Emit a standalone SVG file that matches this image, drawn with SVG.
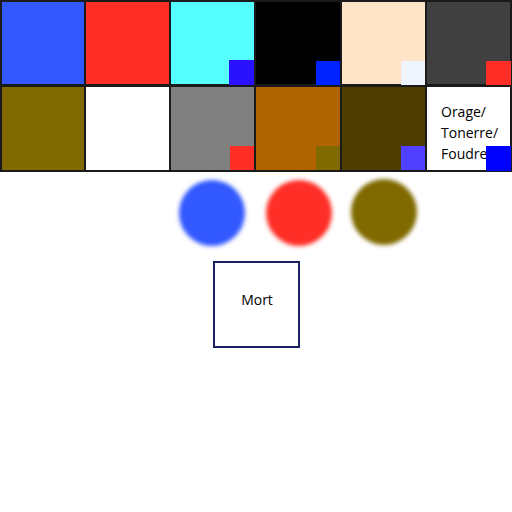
<svg xmlns="http://www.w3.org/2000/svg" width="512" height="512" viewBox="0 0 512 512">
<defs>
<style>
.cell{stroke:#1a1a1a;stroke-width:2}
.sq{stroke:none}
.lbl{font-family:"Open Sans","Liberation Sans",sans-serif;font-size:14px;fill:#000}
</style>
<filter id="blur" x="-30%" y="-30%" width="160%" height="160%"><feGaussianBlur stdDeviation="2"/></filter>
</defs>
<rect width="512" height="512" fill="#fff"/>
<g id="cell-1"><rect class="cell" x="1" y="1" width="84" height="84" fill="#3358ff"/></g>
<g id="cell-2"><rect class="cell" x="85" y="1" width="85" height="84" fill="#ff2e26"/></g>
<g id="cell-3"><rect class="cell" x="170" y="1" width="85" height="84" fill="#55ffff"/><rect class="sq" x="229" y="60" width="25" height="25" fill="#2a12ff"/></g>
<g id="cell-4"><rect class="cell" x="255" y="1" width="86" height="84" fill="#000"/><rect class="sq" x="316" y="61" width="24" height="24" fill="#0022ff"/></g>
<g id="cell-5"><rect class="cell" x="341" y="1" width="85" height="84" fill="#ffe4c8"/><rect class="sq" x="401" y="61" width="25" height="24" fill="#f0f4ff"/></g>
<g id="cell-6"><rect class="cell" x="426" y="1" width="85" height="84" fill="#404040"/><rect class="sq" x="486" y="61" width="25" height="24" fill="#ff2e26"/></g>
<g id="cell-7"><rect class="cell" x="1" y="86" width="84" height="85" fill="#806a00"/></g>
<g id="cell-8"><rect class="cell" x="85" y="86" width="85" height="85" fill="#fff"/></g>
<g id="cell-9"><rect class="cell" x="170" y="86" width="85" height="85" fill="#808080"/><rect class="sq" x="230" y="146" width="24" height="24" fill="#ff2e26"/></g>
<g id="cell-10"><rect class="cell" x="255" y="86" width="86" height="85" fill="#b06400"/><rect class="sq" x="316" y="146" width="24" height="24" fill="#806a00"/></g>
<g id="cell-11"><rect class="cell" x="341" y="86" width="85" height="85" fill="#4d3d00"/><rect class="sq" x="401" y="146" width="24" height="24" fill="#5040ff"/></g>
<g id="cell-12"><rect class="cell" x="426" y="86" width="85" height="85" fill="#fff"/>
<text class="lbl" x="441" y="117">Orage/</text>
<text class="lbl" x="441" y="138">Tonerre/</text>
<text class="lbl" x="441" y="159">Foudre</text>
<rect class="sq" x="486" y="146" width="25" height="25" fill="#0000ff"/></g>
<g id="circle-blue"><circle cx="212" cy="213" r="33" fill="#3358ff" filter="url(#blur)"/></g>
<g id="circle-red"><circle cx="299" cy="213" r="33" fill="#ff2e26" filter="url(#blur)"/></g>
<g id="circle-olive"><circle cx="384" cy="212" r="33" fill="#806a00" filter="url(#blur)"/></g>
<g id="mort"><rect x="214" y="262" width="85" height="85" fill="#fff" stroke="#1a2060" stroke-width="2"/>
<text class="lbl" x="257" y="305" text-anchor="middle">Mort</text></g>
<g id="connectors"></g>
</svg>
